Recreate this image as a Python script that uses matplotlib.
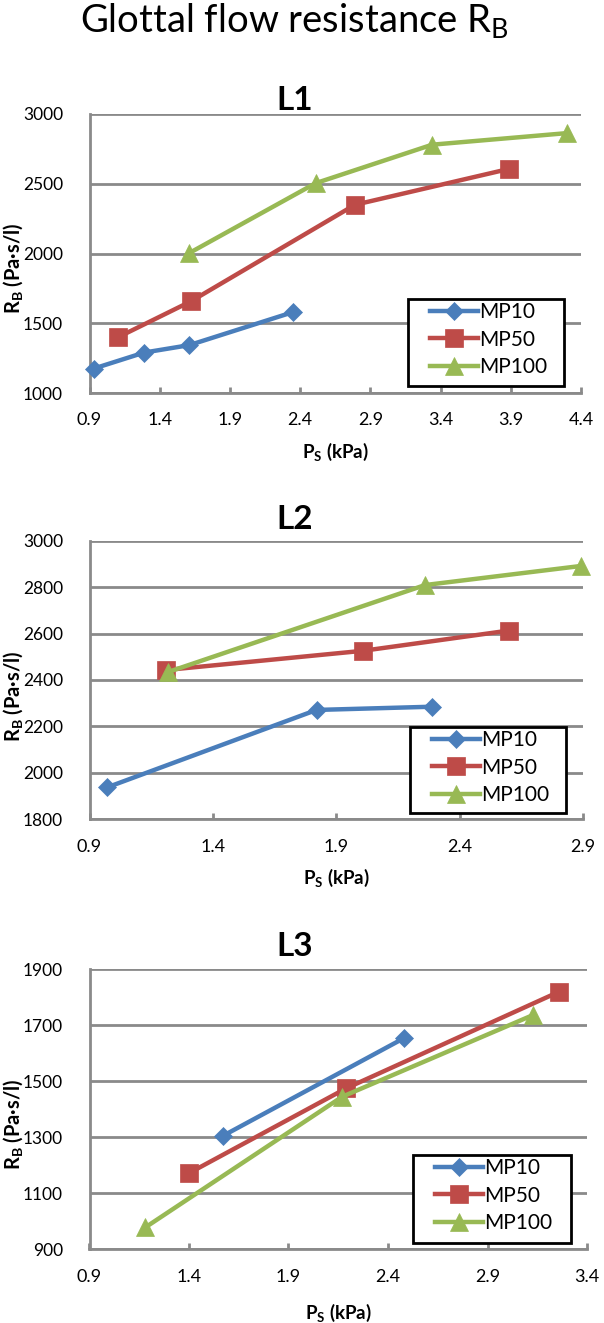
import matplotlib
matplotlib.use("Agg")
import matplotlib.pyplot as plt
from matplotlib.patches import Rectangle
import numpy as np

plt.rcParams['font.family'] = ['Lato', 'DejaVu Sans']
plt.rcParams['mathtext.fontset'] = 'custom'
plt.rcParams['mathtext.rm'] = 'Lato'
plt.rcParams['mathtext.bf'] = 'Lato:bold'
plt.rcParams['mathtext.it'] = 'Lato:italic'

# ---------------- data ----------------
series_names = ["MP10", "MP50", "MP100"]

# L1
l1_mp10_x = [0.93, 1.29, 1.61, 2.35]
l1_mp10_y = [1175, 1290, 1343, 1580]
l1_mp50_x = [1.10, 1.62, 2.79, 3.89]
l1_mp50_y = [1398, 1656, 2349, 2607]
l1_mp100_x = [1.61, 2.51, 3.34, 4.30]
l1_mp100_y = [2003, 2504, 2780, 2863]

# L2
l2_mp10_x = [0.97, 1.82, 2.29]
l2_mp10_y = [1937, 2271, 2285]
l2_mp50_x = [1.21, 2.01, 2.60]
l2_mp50_y = [2443, 2526, 2613]
l2_mp100_x = [1.22, 2.26, 2.89]
l2_mp100_y = [2435, 2809, 2891]

# L3
l3_mp10_x = [1.57, 2.48]
l3_mp10_y = [1305, 1654]
l3_mp50_x = [1.40, 2.19, 3.26]
l3_mp50_y = [1172, 1475, 1820]
l3_mp100_x = [1.18, 2.17, 3.13]
l3_mp100_y = [978, 1445, 1737]

panel_titles = ["L1", "L2", "L3"]
xlims = [(0.9, 4.4), (0.9, 2.9), (0.9, 3.4)]
ylims = [(1000, 3000), (1800, 3000), (900, 1900)]
ysteps = [500, 200, 200]
xstep = 0.5

# ---------------- layout ----------------
W, H = 604, 1323
fig = plt.figure(figsize=(W / 100, H / 100), dpi=100)

def rect(l, t, r, b):
    return [l / W, 1 - b / H, (r - l) / W, (b - t) / H]

axes_px = [(89.5, 114, 581, 393), (89.5, 540.7, 583, 819.3), (89.5, 969.3, 587, 1249.3)]
legend_px = [(408, 299, 564, 386), (410, 727, 566, 813), (413, 1155, 571, 1243)]
title_y = [100.5, 519, 947]
ylabel_y = [268, 696, 1124]
xlabel_y = [452, 878, 1313]

colors = ['#4A7EBB', '#BE4B48', '#98B954']
markers = ['D', 's', '^']
msizes = [9.2, 13.2, 13.5]
grid_c = '#8A8A8A'

data = [
    [(l1_mp10_x, l1_mp10_y), (l1_mp50_x, l1_mp50_y), (l1_mp100_x, l1_mp100_y)],
    [(l2_mp10_x, l2_mp10_y), (l2_mp50_x, l2_mp50_y), (l2_mp100_x, l2_mp100_y)],
    [(l3_mp10_x, l3_mp10_y), (l3_mp50_x, l3_mp50_y), (l3_mp100_x, l3_mp100_y)],
]

fig.text(294 / W, 1 - 20 / H, r"Glottal flow resistance R$_\mathrm{B}$",
         ha='center', va='center', fontsize=27.5)

for i in range(3):
    ax = fig.add_axes(rect(*axes_px[i]))
    x0, x1 = xlims[i]
    y0, y1 = ylims[i]
    ax.set_xlim(x0, x1)
    ax.set_ylim(y0, y1)
    xt = np.round(np.arange(x0, x1 + 1e-6, xstep), 1)
    yt = np.arange(y0, y1 + 1, ysteps[i])
    ax.set_xticks(xt)
    ax.set_xticklabels([f"{v:.1f}" for v in xt])
    ax.set_yticks(yt)
    ax.set_yticklabels([f"{int(v)}" for v in yt])
    for s in ['top', 'right']:
        ax.spines[s].set_visible(False)
    for s in ['left', 'bottom']:
        ax.spines[s].set_color(grid_c)
        ax.spines[s].set_linewidth(2.0)
    ax.yaxis.grid(True, color=grid_c, linewidth=2.0)
    ax.set_axisbelow(True)
    ax.tick_params(axis='y', length=0, pad=19, labelsize=12.5, colors='black')
    ax.tick_params(axis='x', direction='in', length=4, width=2.0, color=grid_c,
                   pad=14, labelsize=13, labelcolor='black')

    handles = []
    for j in range(3):
        xs, ys = data[i][j]
        ln, = ax.plot(xs, ys, color=colors[j], lw=3.2, marker=markers[j],
                      ms=msizes[j], mfc=colors[j], mec=colors[j], mew=0.5,
                      clip_on=False, zorder=3 + j * 0.1, label=series_names[j])
        handles.append(ln)

    # legend frame
    lx0, ly0, lx1, ly1 = legend_px[i]
    fr = Rectangle((lx0 / W, 1 - ly1 / H), (lx1 - lx0) / W, (ly1 - ly0) / H,
                   transform=fig.transFigure, facecolor='white', edgecolor='black',
                   linewidth=2, zorder=5)
    fig.patches.append(fr)
    leg = fig.legend(handles=handles, loc='upper left',
                     bbox_to_anchor=((lx0 + 22) / W, 1 - (ly0 + 3) / H),
                     bbox_transform=fig.transFigure, frameon=False, borderpad=0,
                     borderaxespad=0, fontsize=15, handlelength=2.3,
                     handletextpad=0.05, labelspacing=0.36, numpoints=1)
    leg.set_zorder(6)

    fig.text(295 / W, 1 - title_y[i] / H, panel_titles[i], ha='center', va='center',
             fontsize=24, fontweight='bold')
    fig.text(13.5 / W, 1 - ylabel_y[i] / H, r"R$_\mathbf{B}$ (Pa·s/l)", rotation=90,
             ha='center', va='center', fontsize=14.5, fontweight='bold')
    cx = (axes_px[i][0] + axes_px[i][2]) / 2
    fig.text(cx / W, 1 - xlabel_y[i] / H, r"P$_\mathbf{S}$ (kPa)", ha='center',
             va='center', fontsize=13.5, fontweight='bold')

fig.savefig("out.png", dpi=100)
